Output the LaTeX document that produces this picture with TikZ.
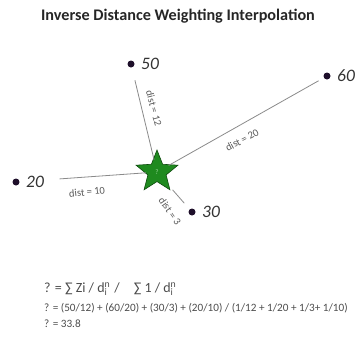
\documentclass[tikz,border=0pt]{standalone}
\usepackage{fontspec}
\setmainfont{Carlito}
\usetikzlibrary{shapes.geometric}
\definecolor{dotcol}{HTML}{1E0F2A}
\definecolor{linecol}{HTML}{8A8A8A}
\definecolor{starfill}{HTML}{1F8A1F}
\definecolor{starline}{HTML}{0E4A0E}
\tikzset{
  sample/.style={circle, fill=dotcol, inner sep=0pt, minimum size=7pt},
  value/.style={right, xshift=3pt, font=\itshape\fontsize{17.5}{17.5}\selectfont, text=black!80},
  distlab/.style={font=\fontsize{10.5}{10.5}\selectfont, text=black!65, inner sep=0pt},
  link/.style={draw=linecol, line width=0.8pt},
  formula/.style={anchor=west, inner sep=0pt, text=black!70}
}
\newcommand{\dni}{d\rlap{\textsuperscript{n}}\textsubscript{i}}
\begin{document}
\begin{tikzpicture}[x=1pt, y=1pt]
  \useasboundingbox (0, 0) rectangle (356, -343);
  \node[font=\bfseries\fontsize{16.2}{16.2}\selectfont, text=black!85] (title) at (178, -16) {Inverse Distance Weighting Interpolation};
  % sample points
  \node[sample] (p50) at (131, -64) {};
  \node[sample] (p60) at (327, -76) {};
  \node[sample] (p20) at (16, -182) {};
  \node[sample] (p30) at (192, -212) {};
  \node[value] (v50) at (p50.east) {50};
  \node[value] (v60) at (p60.east) {60};
  \node[value] (v20) at (p20.east) {20};
  \node[value] (v30) at (p30.east) {30};
  % unknown point
  \node[star, star points=5, star point ratio=2.3, minimum size=44pt, inner sep=0pt,
        fill=starfill, draw=starline, line width=0.6pt] (q) at (157, -172) {};
  \node[font=\fontsize{7}{7}\selectfont, text=green!60!black!40] at (q) {?};
  \draw[link, shorten <=13pt, shorten >=-2pt] (p50) -- (q);
  \draw[link, shorten <=6pt, shorten >=-2pt] (p60) -- (q);
  \draw[link, shorten <=40pt, shorten >=-1pt] (p20) -- (q);
  \draw[link, shorten <=8pt, shorten >=5pt] (p30) -- (q);
  \node[distlab, rotate=-75] at (154, -108) {dist = 12};
  \node[distlab, rotate=28] at (242, -140) {dist = 20};
  \node[distlab, rotate=6] at (87, -192) {dist = 10};
  \node[distlab, rotate=-55] at (170, -211) {dist = 3};
  % the formula
  \node[formula, font=\fontsize{14}{14}\selectfont] (f1) at (44, -289) {? = ∑ Zi / \dni\enspace/\quad ∑ 1 / \dni};
  \node[formula, font=\fontsize{11.2}{11.2}\selectfont] (f2) at (44, -308) {? = (50/12) + (60/20) + (30/3) + (20/10) / (1/12 + 1/20 + 1/3+ 1/10)};
  \node[formula, font=\fontsize{11.2}{11.2}\selectfont] (f3) at (44, -324) {? = 33.8};
\end{tikzpicture}
\end{document}
